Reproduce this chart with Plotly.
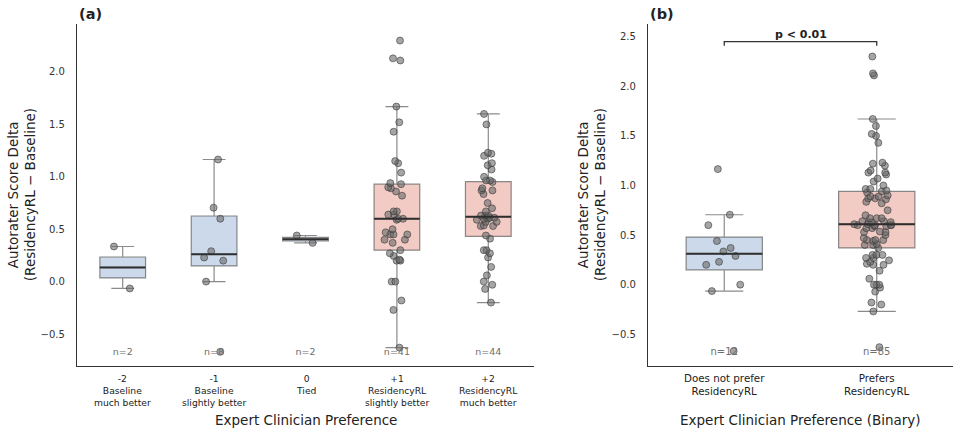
import numpy as np
import plotly.graph_objects as go

# autorater score delta (ResidencyRL - Baseline) per expert preference
delta_m2 = [0.335, -0.065]
delta_m1 = [1.165, 0.705, 0.60, 0.29, 0.23, 0.20, 0.00, -0.67]
delta_0 = [0.44, 0.37]
delta_p1 = [2.30, 2.13, 2.11, 1.67, 1.52, 1.43, 1.15, 1.13, 1.04, 0.94, 0.93,
            0.90, 0.89, 0.86, 0.82, 0.67, 0.67, 0.64, 0.64, 0.60, 0.60, 0.59,
            0.50, 0.47, 0.45, 0.45, 0.45, 0.40, 0.40, 0.37, 0.30, 0.27, 0.245,
            0.21, 0.20, 0.20, 0.00, 0.00, -0.18, -0.27, -0.63]
delta_p2 = [1.60, 1.50, 1.23, 1.22, 1.20, 1.13, 1.11, 1.07, 1.00, 0.965, 0.965,
            0.95, 0.89, 0.87, 0.87, 0.835, 0.75, 0.70, 0.67, 0.63, 0.63, 0.63,
            0.61, 0.61, 0.60, 0.60, 0.59, 0.57, 0.57, 0.535, 0.53, 0.53, 0.44,
            0.41, 0.30, 0.30, 0.27, 0.23, 0.14, 0.06, 0.00, -0.03, -0.07, -0.20]

pref_labels = ["-2<br>Baseline<br>much better",
               "-1<br>Baseline<br>slightly better",
               "0<br>Tied",
               "+1<br>ResidencyRL<br>slightly better",
               "+2<br>ResidencyRL<br>much better"]
binary_labels = ["Does not prefer<br>ResidencyRL",
                 "Prefers<br>ResidencyRL"]

ticks_a = [-0.5, 0.0, 0.5, 1.0, 1.5, 2.0]
ticks_b = [-0.5, 0.0, 0.5, 1.0, 1.5, 2.0, 2.5]

groups_a = [delta_m2, delta_m1, delta_0, delta_p1, delta_p2]
groups_b = [delta_m2 + delta_m1 + delta_0, delta_p1 + delta_p2]

BLUE = "rgba(176,196,222,0.65)"
RED = "rgba(232,160,150,0.55)"
EDGE = "rgba(100,100,100,0.75)"
MEDIAN = "#2e2e2e"
PT = "rgba(105,105,105,0.6)"
PT_EDGE = "rgba(50,50,50,0.7)"
AXIS = "#333333"
FONT = "DejaVu Sans"
BOX_W = 0.5
N_Y = -0.68
P_Y = 2.45


def box_stats(vals):
    v = np.sort(np.asarray(vals, dtype=float))
    q1, med, q3 = np.percentile(v, [25, 50, 75])
    iqr = q3 - q1
    lo = v[v >= q1 - 1.5 * iqr].min()
    hi = v[v <= q3 + 1.5 * iqr].max()
    return q1, med, q3, lo, hi


def add_panel(fig, groups, colors, xa, ya, nsize):
    # boxes (no fliers) and dark median lines
    for i, (vals, col) in enumerate(zip(groups, colors)):
        q1, med, q3, lo, hi = box_stats(vals)
        fig.add_trace(go.Box(
            x=[i], q1=[q1], median=[med], q3=[q3], lowerfence=[lo], upperfence=[hi],
            width=BOX_W, whiskerwidth=0.5, fillcolor=col,
            line=dict(color=EDGE, width=1.2), boxpoints=False,
            xaxis=xa, yaxis=ya, showlegend=False, hoverinfo="skip"))
        fig.add_trace(go.Scatter(
            x=[i - BOX_W / 2, i + BOX_W / 2], y=[med, med], mode="lines",
            line=dict(color=MEDIAN, width=2), xaxis=xa, yaxis=ya,
            showlegend=False, hoverinfo="skip"))
    # sample sizes
    fig.add_trace(go.Scatter(
        x=list(range(len(groups))), y=[N_Y] * len(groups), mode="text",
        text=[f"n={len(g)}" for g in groups],
        textfont=dict(family=FONT, size=nsize, color="#6e6e6e"),
        xaxis=xa, yaxis=ya, showlegend=False, hoverinfo="skip"))
    # jittered points
    for i, vals in enumerate(groups):
        fig.add_trace(go.Box(
            x=[i] * len(vals), y=vals, boxpoints="all", jitter=0.6, pointpos=0,
            width=BOX_W, fillcolor="rgba(0,0,0,0)",
            line=dict(color="rgba(0,0,0,0)", width=0),
            marker=dict(size=7, color=PT, line=dict(color=PT_EDGE, width=0.8)),
            xaxis=xa, yaxis=ya, showlegend=False, hoverinfo="y"))


fig = go.Figure()
add_panel(fig, groups_a, [BLUE, BLUE, BLUE, RED, RED], "x", "y", 9.5)
add_panel(fig, groups_b, [BLUE, RED], "x2", "y2", 10)

# significance bracket
fig.add_trace(go.Scatter(
    x=[0, 0, 1, 1], y=[P_Y - 0.04, P_Y, P_Y, P_Y - 0.04], mode="lines",
    line=dict(color=AXIS, width=1.3), xaxis="x2", yaxis="y2",
    showlegend=False, hoverinfo="skip"))

ann = []
ann.append(dict(text="<b>p < 0.01</b>", x=0.5, y=P_Y, xref="x2", yref="y2",
                yanchor="bottom", yshift=-1, showarrow=False,
                font=dict(family=FONT, size=11, color="#222")))

# category labels under each axis
for xref, yref, labels, size, shift in [("x", "y", pref_labels, 9.2, -5),
                                        ("x2", "y2", binary_labels, 10.3, -4)]:
    for i, lab in enumerate(labels):
        ann.append(dict(text=lab, x=i, xref=xref, y=0, yref=yref + " domain",
                        yanchor="top", yshift=shift, showarrow=False,
                        font=dict(family=FONT, size=size, color="#222")))

# panel tags, axis titles
for xref, yref, tag, xtitle, ylx in [("x", "y", "<b>(a)</b>", "Expert Clinician Preference", (13, 30)),
                                      ("x2", "y2", "<b>(b)</b>", "Expert Clinician Preference (Binary)", (583, 600))]:
    ann.append(dict(text=tag, x=0, xref=xref + " domain", y=1 - 14.5 / 435, yref="paper",
                    xanchor="left", yanchor="middle", showarrow=False,
                    font=dict(family=FONT, size=14.5, color="#222")))
    ann.append(dict(text=xtitle, x=0.5, xref=xref + " domain", y=1 - 420 / 435, yref="paper",
                    yanchor="middle", showarrow=False,
                    font=dict(family=FONT, size=13.5, color="#222")))
    for px, line in zip(ylx, ["Autorater Score Delta", "(ResidencyRL \u2212 Baseline)"]):
        ann.append(dict(text=line, x=px / 960, xref="paper", y=0.5, yref=yref + " domain",
                        xanchor="center", yanchor="middle", textangle=-90, showarrow=False,
                        font=dict(family=FONT, size=13.5, color="#222")))

xcommon = dict(showline=True, linecolor=AXIS, linewidth=1.25, showticklabels=False,
               ticks="", showgrid=False, zeroline=False, fixedrange=True)
ycommon = dict(showline=True, linecolor=AXIS, linewidth=1.25, ticks="", showgrid=False,
               zeroline=False, tickformat=".1f", ticklabelstandoff=9,
               tickfont=dict(family=FONT, size=10, color="#333"))

fig.update_layout(
    width=960, height=435,
    margin=dict(l=0, r=0, t=0, b=0),
    paper_bgcolor="white", plot_bgcolor="white",
    font=dict(family=FONT, color="#222"),
    boxmode="overlay",
    showlegend=False,
    xaxis=dict(domain=[77 / 960, 534 / 960], range=[-0.5, 4.5], anchor="y", **xcommon),
    yaxis=dict(domain=[1 - 366 / 435, 1 - 24.3 / 435], range=[-0.805, 2.455],
               tickvals=ticks_a, anchor="x", **ycommon),
    xaxis2=dict(domain=[648 / 960, 953 / 960], range=[-0.5, 1.5], anchor="y2", **xcommon),
    yaxis2=dict(domain=[1 - 366 / 435, 1 - 24.3 / 435], range=[-0.82, 2.625],
                tickvals=ticks_b, anchor="x2", **ycommon),
    annotations=ann,
)

# the page body has a default 8px margin; drop it so the figure fills the window
fig.write_html("out.html", config={"displayModeBar": False},
               post_script="document.body.style.margin='0px';")
